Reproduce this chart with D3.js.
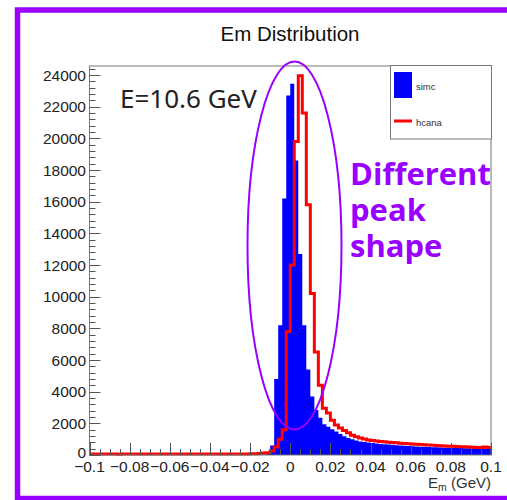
<!DOCTYPE html>
<html>
<head>
<meta charset="utf-8">
<script src="https://cdn.jsdelivr.net/npm/d3@7"></script>
<style>
  html, body { margin: 0; padding: 0; background: #fff; }
  svg { display: block; }
</style>
</head>
<body>
<div id="chart"></div>
<script>
// ---------- data ----------
const xMin = -0.1, xMax = 0.1, binWidth = 0.002;
// simc (blue, filled) bin contents, 100 bins from -0.1 to 0.1
const simc = [
  0,0,0,0,0,0,0,0,0,0,
  0,0,0,0,0,0,0,0,0,0,
  0,0,0,0,0,0,0,0,0,0,
  0,0,0,0,0,0,0,0,0,0,
  0,0,0,30,150,600,4800,8200,16200,22700,
  23450,18600,12700,8200,5400,3700,2850,2350,1950,1780,
  1620,1480,1330,1180,1080,990,920,860,820,790,
  760,730,700,680,660,640,620,600,585,570,
  555,540,525,515,505,495,485,475,465,455,
  450,440,435,430,420,415,405,400,395,385
];
// hcana (red, line) bin contents
const hcana = [
  60,55,65,60,58,62,60,55,60,64,
  58,60,62,57,60,63,60,58,61,60,
  62,59,60,63,58,60,61,60,64,60,
  58,62,60,61,65,60,63,66,64,70,
  72,80,95,120,150,250,500,1000,1600,7800,
  12000,19800,23950,21600,15800,10200,6500,4400,2950,2650,
  2200,1900,1700,1550,1400,1250,1150,1080,1010,950,
  910,880,850,830,800,790,770,750,730,710,
  690,680,660,650,630,610,600,590,575,560,
  545,535,520,515,505,495,480,470,500,470
];
const xTicks = [-0.1,-0.08,-0.06,-0.04,-0.02,0,0.02,0.04,0.06,0.08,0.1];
const xTickLabels = ["\u22120.1","\u22120.08","\u22120.06","\u22120.04","\u22120.02","0","0.02","0.04","0.06","0.08","0.1"];
const yTicks = [0,2000,4000,6000,8000,10000,12000,14000,16000,18000,20000,22000,24000];
const yTickLabels = ["0","2000","4000","6000","8000","10000","12000","14000","16000","18000","20000","22000","24000"];
const legendLabels = ["simc","hcana"];
const titleText = "Em Distribution";
const energyNote = "E=10.6 GeV";
const noteLines = ["Different","peak","shape"];

// ---------- layout ----------
const W = 507, H = 500;
const L = 89.5, R = 491, T = 66, B = 455;
const purple = "#9a00ff";

const svg = d3.select("#chart").append("svg")
  .attr("width", W).attr("height", H)
  .style("font-family", "'Liberation Sans', Arial, sans-serif");

svg.append("rect").attr("width", W).attr("height", H).attr("fill", "#fff");

const x = d3.scaleLinear().domain([xMin, xMax]).range([L, R]);
const y = d3.scaleLinear().domain([0, 24570]).range([B, T]);

const edges = d3.range(simc.length + 1).map(i => xMin + i * binWidth);

function stepArea(vals) {
  let p = `M${x(edges[0])},${y(0)}`;
  vals.forEach((v, i) => {
    p += `L${x(edges[i])},${y(v)}L${x(edges[i+1])},${y(v)}`;
  });
  p += `L${x(edges[vals.length])},${y(0)}Z`;
  return p;
}
function stepLine(vals) {
  let p = "";
  vals.forEach((v, i) => {
    p += (i === 0 ? "M" : "L") + `${x(edges[i])},${y(v)}L${x(edges[i+1])},${y(v)}`;
  });
  return p;
}

svg.append("path").attr("d", stepArea(simc)).attr("fill", "#0000ff").attr("stroke", "none");
svg.append("path").attr("d", stepLine(hcana)).attr("fill", "none")
  .attr("stroke", "#ff0000").attr("stroke-width", 3).attr("stroke-linejoin", "miter");

// frame
svg.append("rect").attr("x", L).attr("y", T).attr("width", R - L).attr("height", B - T)
  .attr("fill", "none").attr("stroke", "#777").attr("stroke-width", 1);

// y ticks (inside, pointing right)
const yMinor = d3.range(0, 24401, 400);
svg.append("g").selectAll("line").data(yMinor).join("line")
  .attr("x1", L).attr("x2", d => L + (d % 2000 === 0 ? 11 : 6))
  .attr("y1", d => Math.round(y(d)) + 0.5).attr("y2", d => Math.round(y(d)) + 0.5)
  .attr("stroke", "#555").attr("stroke-width", 1);
svg.append("g").selectAll("text").data(yTicks).join("text")
  .attr("x", 86).attr("y", d => y(d) - (d === 0 ? 3 : 0))
  .attr("text-anchor", "end").attr("dominant-baseline", "central")
  .attr("font-size", 15.5).attr("fill", "#222")
  .text((d, i) => yTickLabels[i]);

// x ticks (inside, pointing up)
const xMinorTicks = d3.range(0, 41).map(i => xMin + i * 0.005);
svg.append("g").selectAll("line").data(xMinorTicks).join("line")
  .attr("x1", d => Math.round(x(d)) + 0.5).attr("x2", d => Math.round(x(d)) + 0.5)
  .attr("y1", B).attr("y2", (d, i) => B - (i % 4 === 0 ? 12 : 6))
  .attr("stroke", "#555").attr("stroke-width", 1);
svg.append("g").selectAll("text").data(xTicks).join("text")
  .attr("x", d => x(d)).attr("y", 472)
  .attr("text-anchor", "middle")
  .attr("font-size", 15.5).attr("fill", "#222")
  .text((d, i) => xTickLabels[i]);

// x axis title
const xt = svg.append("text").attr("x", R).attr("y", 488)
  .attr("text-anchor", "end").attr("font-size", 15).attr("fill", "#333");
xt.append("tspan").text("E");
xt.append("tspan").attr("font-size", 10.5).attr("dy", 3).text("m");
xt.append("tspan").attr("dy", -3).text(" (GeV)");

// title
svg.append("text").attr("x", 290).attr("y", 41).attr("text-anchor", "middle")
  .attr("font-size", 20.5).attr("fill", "#111").text(titleText);

// legend
svg.append("rect").attr("x", 390.5).attr("y", 65.5).attr("width", 101).attr("height", 73.5)
  .attr("fill", "#fff").attr("stroke", "#777").attr("stroke-width", 1);
svg.append("rect").attr("x", 394).attr("y", 72).attr("width", 18).attr("height", 26).attr("fill", "#0000ff");
svg.append("line").attr("x1", 394).attr("x2", 412).attr("y1", 121).attr("y2", 121)
  .attr("stroke", "#ff0000").attr("stroke-width", 3);
svg.append("text").attr("x", 416).attr("y", 86).attr("dominant-baseline", "central")
  .attr("font-size", 9.5).attr("fill", "#333").text(legendLabels[0]);
svg.append("text").attr("x", 416).attr("y", 122).attr("dominant-baseline", "central")
  .attr("font-size", 9.5).attr("fill", "#333").text(legendLabels[1]);

// annotations
svg.append("text").attr("x", 120).attr("y", 108)
  .style("font-family", "'Noto Sans', 'Open Sans', sans-serif")
  .attr("font-size", 26).attr("fill", "#222").text(energyNote);

svg.append("ellipse").attr("cx", 294.5).attr("cy", 245.5).attr("rx", 47).attr("ry", 184)
  .attr("fill", "none").attr("stroke", purple).attr("stroke-width", 2);

const baselines = [185, 221, 257];
svg.append("g").selectAll("text").data(noteLines).join("text")
  .attr("x", 350).attr("y", (d, i) => baselines[i])
  .style("font-family", "'Open Sans', 'Noto Sans', sans-serif")
  .attr("font-weight", 700).attr("font-size", 31).attr("fill", purple)
  .text(d => d);

// purple border
svg.append("rect").attr("x", 17.5).attr("y", 10).attr("width", 510).attr("height", 488.5)
  .attr("fill", "none").attr("stroke", purple).attr("stroke-width", 5.5);
</script>
</body>
</html>
